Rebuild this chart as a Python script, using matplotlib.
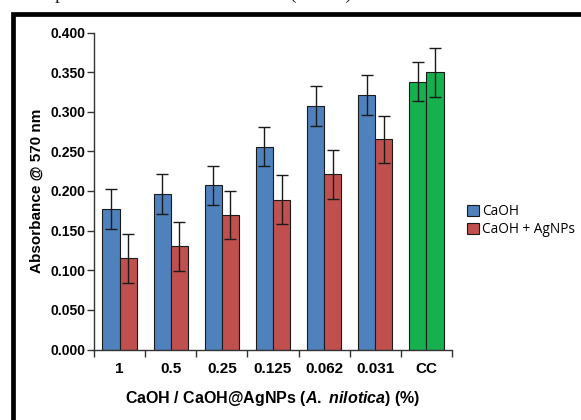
import matplotlib.pyplot as plt
import numpy as np
from matplotlib.patches import Rectangle

plt.rcParams['font.family'] = ['Liberation Sans', 'DejaVu Sans']
plt.rcParams['mathtext.fontset'] = 'custom'
plt.rcParams['mathtext.it'] = 'Liberation Sans:italic:bold'
plt.rcParams['mathtext.rm'] = 'Liberation Sans:bold'

# data
groups = ['1', '0.5', '0.25', '0.125', '0.062', '0.031', 'CC']
caoh = [0.177, 0.196, 0.207, 0.256, 0.307, 0.321]
caoh_err = [0.025, 0.025, 0.025, 0.025, 0.025, 0.025]
agnps = [0.115, 0.130, 0.170, 0.189, 0.221, 0.265]
agnps_err = [0.031, 0.031, 0.030, 0.031, 0.031, 0.030]
cc = [0.338, 0.350]
cc_err = [0.025, 0.031]

blue = '#4F81BD'
red = '#C0504D'
green = '#17B04F'

fig = plt.figure(figsize=(5.81, 4.20), dpi=100)
ax = fig.add_axes([94 / 581, 70.5 / 420, 358 / 581, 317 / 420])

w = 0.335
x = np.arange(len(caoh))
ekw = dict(elinewidth=1.0, capthick=1.0, ecolor='#1a1a1a')
ax.bar(x - w / 2, caoh, w, yerr=caoh_err, capsize=4, color=blue,
       edgecolor='#1a1a1a', linewidth=0.8, label='CaOH', error_kw=ekw)
ax.bar(x + w / 2, agnps, w, yerr=agnps_err, capsize=4, color=red,
       edgecolor='#1a1a1a', linewidth=0.8, label='CaOH + AgNPs', error_kw=ekw)
xc = len(caoh)
ax.bar([xc - w / 2, xc + w / 2], cc, w, yerr=cc_err, capsize=4, color=green,
       edgecolor='#1a1a1a', linewidth=0.8, error_kw=ekw)

ax.set_xlim(-0.5, 6.5)
ax.set_ylim(0, 0.4)
ax.set_yticks(np.arange(0, 0.401, 0.05))
ax.set_yticklabels(['%.3f' % v for v in np.arange(0, 0.401, 0.05)],
                   fontsize=10, fontweight='bold')
ax.set_xticks(range(len(groups)))
ax.set_xticklabels(groups, fontsize=11, fontweight='bold')
ax.set_xticks(np.arange(-0.5, 6.6, 1), minor=True)
ax.tick_params(axis='x', which='major', length=0, pad=9)
ax.tick_params(axis='x', which='minor', length=5, width=1, color='#333333')
ax.tick_params(axis='y', length=5, width=1, color='#333333', pad=1)

for s in ['top', 'right']:
    ax.spines[s].set_visible(False)
for s in ['left', 'bottom']:
    ax.spines[s].set_color('#333333')
    ax.spines[s].set_linewidth(1.0)

ax.set_ylabel('Absorbance @ 570 nm', fontsize=11, fontweight='bold', labelpad=5)
ax.set_xlabel(r'CaOH / CaOH@AgNPs ($\mathit{A.\ nilotica}$) (%)',
              fontsize=11.5, fontweight='bold', labelpad=9)

leg = fig.legend(loc='upper left', bbox_to_anchor=(462 / 581, 1 - 199 / 420),
                 frameon=False, prop={'family': 'Open Sans', 'size': 9.8},
                 handlelength=0.85, handleheight=0.85, handletextpad=0.2,
                 labelspacing=0.2, borderaxespad=0)

# black frame of the original figure
fig.patches.append(Rectangle((12.5 / 581, -0.2), 1.2, 1 - 14 / 420 + 0.2,
                             transform=fig.transFigure, fill=False,
                             edgecolor='black', linewidth=3.4))

# bottom of a caption line cut off above the figure
fig.text(55 / 581, 1 + 1 / 420, 'p', family='Liberation Serif', fontsize=14,
         va='baseline', color='#222222')
fig.text(290 / 581, 1 + 1 / 420, '(          )', family='Liberation Serif',
         fontsize=14, va='baseline', color='#222222')

fig.savefig('out.png', dpi=100)
